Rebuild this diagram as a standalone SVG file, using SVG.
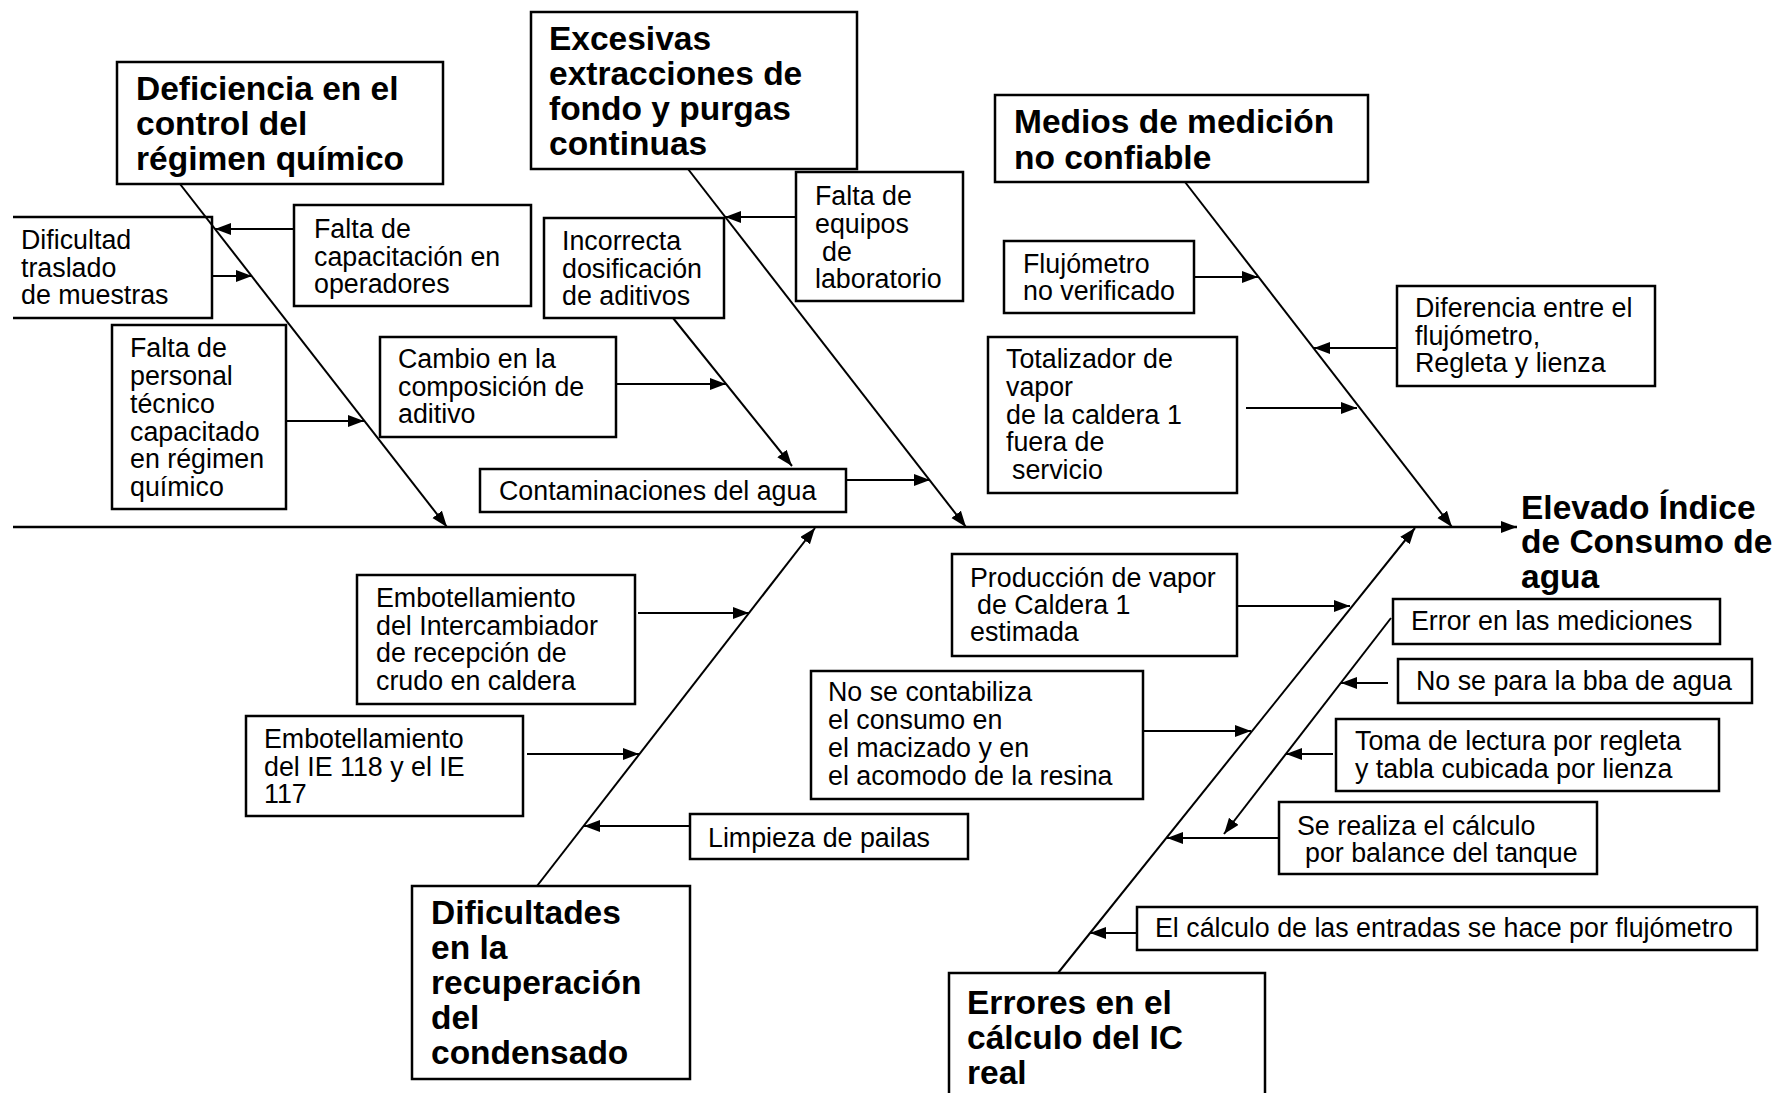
<svg xmlns="http://www.w3.org/2000/svg" width="1778" height="1093" viewBox="0 0 1778 1093">
<style>
.box{fill:#fff;stroke:#000;stroke-width:2.5}
.ln{stroke:#000;stroke-width:2;fill:none;marker-end:url(#ah)}
.sp{stroke:#000;stroke-width:2.5;fill:none;marker-end:url(#ah)}
text{font-family:"Liberation Sans",Arial,sans-serif;fill:#000}
.t{font-size:26.8px}
.h{font-size:33.5px;font-weight:bold}
</style>
<defs>
<marker id="ah" markerUnits="userSpaceOnUse" markerWidth="17" markerHeight="13" refX="16" refY="6" orient="auto">
<path d="M0,0 L16,6 L0,12 z" fill="#000"/>
</marker>
</defs>
<rect width="1778" height="1093" fill="#fff"/>

<g id="efecto">
<text class="h" x="1521" y="519">Elevado Índice</text>
<text class="h" x="1521" y="553">de Consumo de</text>
<text class="h" x="1521" y="588">agua</text>
</g>

<g id="deficiencia">
<rect class="box" x="117" y="62" width="326" height="122"/>
<text class="h" x="136" y="100">Deficiencia en el</text>
<text class="h" x="136" y="135">control del</text>
<text class="h" x="136" y="170">régimen químico</text>
</g>
<g id="dificultad">
<path class="box" d="M13,217 H212 V318 H13"/>
<text class="t" x="21" y="249">Dificultad</text>
<text class="t" x="21" y="277">traslado</text>
<text class="t" x="21" y="304">de muestras</text>
</g>
<g id="falta-capacitacion">
<rect class="box" x="294" y="205" width="237" height="101"/>
<text class="t" x="314" y="238">Falta de</text>
<text class="t" x="314" y="266">capacitación en</text>
<text class="t" x="314" y="293">operadores</text>
</g>
<g id="falta-personal">
<rect class="box" x="112" y="325" width="174" height="184"/>
<text class="t" x="130" y="357">Falta de</text>
<text class="t" x="130" y="385">personal</text>
<text class="t" x="130" y="413">técnico</text>
<text class="t" x="130" y="441">capacitado</text>
<text class="t" x="130" y="468">en régimen</text>
<text class="t" x="130" y="496">químico</text>
</g>
<g id="cambio">
<rect class="box" x="380" y="337" width="236" height="100"/>
<text class="t" x="398" y="368">Cambio en la</text>
<text class="t" x="398" y="396">composición de</text>
<text class="t" x="398" y="423">aditivo</text>
</g>

<g id="excesivas">
<rect class="box" x="531" y="12" width="326" height="157"/>
<text class="h" x="549" y="50">Excesivas</text>
<text class="h" x="549" y="85">extracciones de</text>
<text class="h" x="549" y="120">fondo y purgas</text>
<text class="h" x="549" y="155">continuas</text>
</g>
<g id="falta-equipos">
<rect class="box" x="796" y="172" width="167" height="129"/>
<text class="t" x="815" y="205">Falta de</text>
<text class="t" x="815" y="233">equipos</text>
<text class="t" x="822" y="261">de</text>
<text class="t" x="815" y="288">laboratorio</text>
</g>
<g id="incorrecta">
<rect class="box" x="544" y="218" width="180" height="100"/>
<text class="t" x="562" y="250">Incorrecta</text>
<text class="t" x="562" y="278">dosificación</text>
<text class="t" x="562" y="305">de aditivos</text>
</g>
<g id="contaminaciones">
<rect class="box" x="480" y="469" width="366" height="43"/>
<text class="t" x="499" y="500">Contaminaciones del agua</text>
</g>

<g id="medios">
<rect class="box" x="995" y="95" width="373" height="87"/>
<text class="h" x="1014" y="133">Medios de medición</text>
<text class="h" x="1014" y="169">no confiable</text>
</g>
<g id="flujometro">
<rect class="box" x="1004" y="241" width="190" height="72"/>
<text class="t" x="1023" y="273">Flujómetro</text>
<text class="t" x="1023" y="300">no verificado</text>
</g>
<g id="diferencia">
<rect class="box" x="1397" y="286" width="258" height="100"/>
<text class="t" x="1415" y="317">Diferencia entre el</text>
<text class="t" x="1415" y="345">flujómetro,</text>
<text class="t" x="1415" y="372">Regleta y lienza</text>
</g>
<g id="totalizador">
<rect class="box" x="988" y="337" width="249" height="156"/>
<text class="t" x="1006" y="368">Totalizador de</text>
<text class="t" x="1006" y="396">vapor</text>
<text class="t" x="1006" y="424">de la caldera 1</text>
<text class="t" x="1006" y="451">fuera de</text>
<text class="t" x="1012" y="479">servicio</text>
</g>

<g id="dificultades">
<rect class="box" x="412" y="886" width="278" height="193"/>
<text class="h" x="431" y="924">Dificultades</text>
<text class="h" x="431" y="959">en la</text>
<text class="h" x="431" y="994">recuperación</text>
<text class="h" x="431" y="1029">del</text>
<text class="h" x="431" y="1064">condensado</text>
</g>
<g id="emb-intercambiador">
<rect class="box" x="357" y="575" width="278" height="129"/>
<text class="t" x="376" y="607">Embotellamiento</text>
<text class="t" x="376" y="635">del Intercambiador</text>
<text class="t" x="376" y="662">de recepción de</text>
<text class="t" x="376" y="690">crudo en caldera</text>
</g>
<g id="emb-ie">
<rect class="box" x="246" y="716" width="277" height="100"/>
<text class="t" x="264" y="748">Embotellamiento</text>
<text class="t" x="264" y="776">del IE 118 y el IE</text>
<text class="t" x="264" y="803">117</text>
</g>
<g id="limpieza">
<rect class="box" x="690" y="814" width="278" height="45"/>
<text class="t" x="708" y="847">Limpieza de pailas</text>
</g>

<g id="errores">
<rect class="box" x="949" y="973" width="316" height="140"/>
<text class="h" x="967" y="1014">Errores en el</text>
<text class="h" x="967" y="1049">cálculo del IC</text>
<text class="h" x="967" y="1084">real</text>
</g>
<g id="produccion">
<rect class="box" x="952" y="554" width="285" height="102"/>
<text class="t" x="970" y="587">Producción de vapor</text>
<text class="t" x="977" y="614">de Caldera 1</text>
<text class="t" x="970" y="641">estimada</text>
</g>
<g id="no-contabiliza">
<rect class="box" x="811" y="671" width="332" height="128"/>
<text class="t" x="828" y="701">No se contabiliza</text>
<text class="t" x="828" y="729">el consumo en</text>
<text class="t" x="828" y="757">el macizado y en</text>
<text class="t" x="828" y="785">el acomodo de la resina</text>
</g>
<g id="error-mediciones">
<rect class="box" x="1393" y="599" width="327" height="45"/>
<text class="t" x="1411" y="630">Error en las mediciones</text>
</g>
<g id="no-para">
<rect class="box" x="1398" y="659" width="354" height="44"/>
<text class="t" x="1416" y="690">No se para la bba de agua</text>
</g>
<g id="toma">
<rect class="box" x="1336" y="719" width="383" height="72"/>
<text class="t" x="1355" y="750">Toma de lectura por regleta</text>
<text class="t" x="1355" y="778">y tabla cubicada por lienza</text>
</g>
<g id="se-realiza">
<rect class="box" x="1279" y="802" width="318" height="72"/>
<text class="t" x="1297" y="835">Se realiza el cálculo</text>
<text class="t" x="1305" y="862">por balance del tanque</text>
</g>
<g id="el-calculo">
<rect class="box" x="1137" y="907" width="620" height="43"/>
<text class="t" x="1155" y="937">El cálculo de las entradas se hace por flujómetro</text>
</g>

<g id="connectors">
<path class="sp" d="M13,527 L1517,527"/>
<path class="ln" d="M180,184 L447,527"/>
<path class="ln" d="M688,169 L966,527"/>
<path class="ln" d="M1185,182 L1452,527"/>
<path class="ln" d="M537,886 L815,528"/>
<path class="ln" d="M1058,973 L1415,528"/>
<path class="ln" d="M673,318 L792,466"/>
<path class="ln" d="M1391,618 L1224,834"/>
<path class="ln" d="M212,276 L252,276"/>
<path class="ln" d="M294,229 L215,229"/>
<path class="ln" d="M286,421 L364,421"/>
<path class="ln" d="M616,384 L726,384"/>
<path class="ln" d="M796,217 L725,217"/>
<path class="ln" d="M846,480 L930,480"/>
<path class="ln" d="M1194,277 L1258,277"/>
<path class="ln" d="M1397,348 L1314,348"/>
<path class="ln" d="M1246,408 L1357,408"/>
<path class="ln" d="M638,613 L749,613"/>
<path class="ln" d="M527,754 L639,754"/>
<path class="ln" d="M690,826 L584,826"/>
<path class="ln" d="M1237,606 L1350,606"/>
<path class="ln" d="M1143,731 L1251,731"/>
<path class="ln" d="M1388,683 L1341,683"/>
<path class="ln" d="M1333,754 L1286,754"/>
<path class="ln" d="M1279,838 L1167,838"/>
<path class="ln" d="M1137,933 L1090,933"/>
</g>
</svg>
